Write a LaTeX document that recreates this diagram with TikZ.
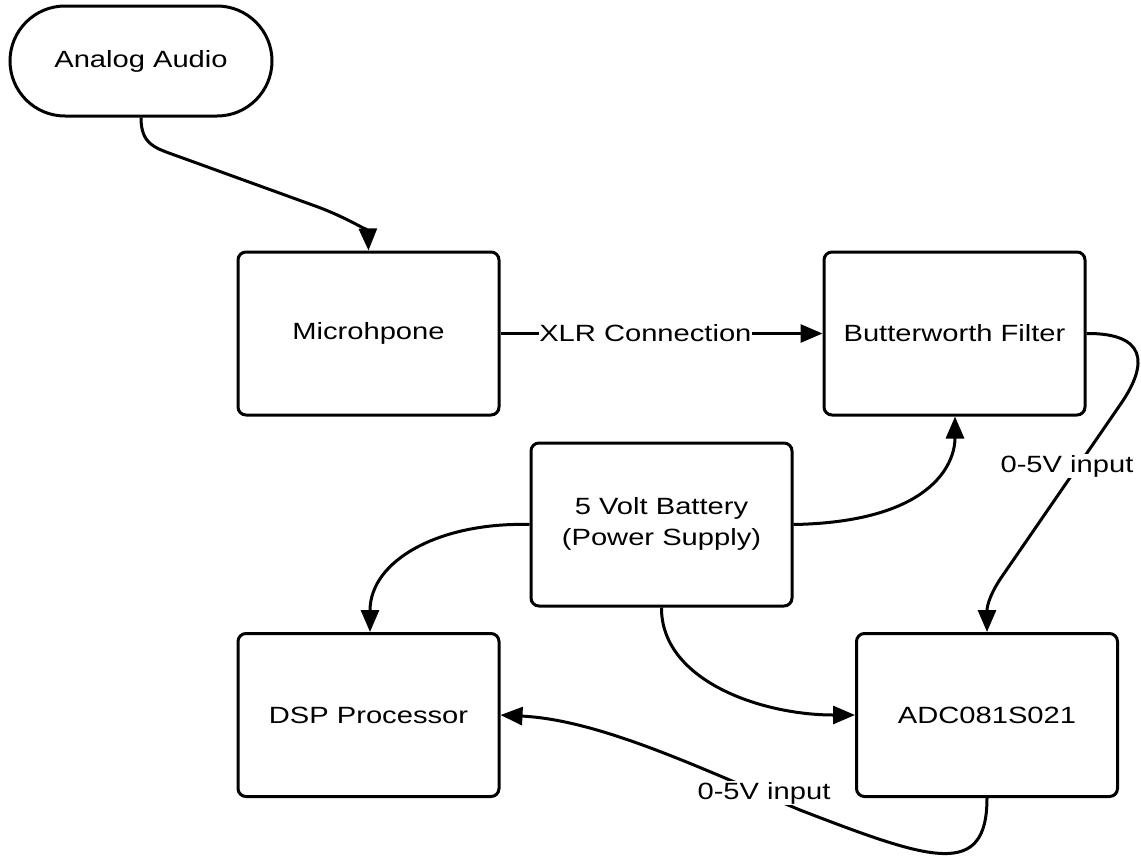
\documentclass[tikz,border=0pt]{standalone}
\usepackage{fontspec}
\setmainfont{Liberation Sans}[FakeStretch=1.24]
\usetikzlibrary{arrows.meta}

\begin{document}
\begin{tikzpicture}[x=1pt,y=-1pt,
  every node/.style={font=\fontsize{23.5}{31}\selectfont},
  block/.style={draw, line width=3pt, rounded corners=8pt,
    minimum width=261pt, minimum height=163pt, inner sep=0pt, align=center},
  terminal/.style={draw, line width=3pt, rounded corners=55pt,
    minimum width=262pt, minimum height=110pt, inner sep=0pt},
  link/.style={line width=3pt, -{Triangle[length=22pt,width=18pt]}},
  tag/.style={fill=white, inner sep=1pt}
]
\useasboundingbox (0,0) rectangle (1141,855);

% blocks
\node[terminal] (audio) at (141,61)      {Analog Audio};
\node[block]    (mic)   at (368.5,333.5) {Microhpone};
\node[block]    (bw)    at (954.5,333.5) {Butterworth Filter};
\node[block]    (bat)   at (661.5,524.5) {5 Volt Battery\\(Power Supply)\\[-25pt]\mbox{}};
\node[block]    (dsp)   at (368.5,715)   {DSP Processor};
\node[block]    (adc)   at (987,715)     {ADC081S021};

% signal chain
\draw[link] (audio.south) .. controls (141,145) and (155,148) .. (180,157)
  -- (318,207) .. controls (350,219) and (368,232) .. (mic.north);
\draw[link] (mic.east) -- node[tag, inner sep=0pt, pos=0.45] {XLR Connection} (bw.west);
\draw[link] (bw.east) .. controls (1145,333) and (1150,362) .. (1120,405)
  -- (1003,575) .. controls (991,592) and (987,605) .. (adc.north);
\node[tag] (lbl1) at (1067,466) {0-5V input};
\draw[link] (adc.south) .. controls (987,880) and (930,860) .. (800,810)
  .. controls (700,768) and (600,720) .. (dsp.east);
\node[tag] (lbl2) at (764,793) {0-5V input};

% power distribution
\draw[link] (bat.east) .. controls (930,522) and (955,465) .. ([xshift=0.5pt]bw.south);
\draw[link] (bat.west) .. controls (440,522) and (370,560) .. ([xshift=1.5pt]dsp.north);
\draw[link] (bat.south) .. controls (661,680) and (760,715) .. (adc.west);
\end{tikzpicture}
\end{document}
